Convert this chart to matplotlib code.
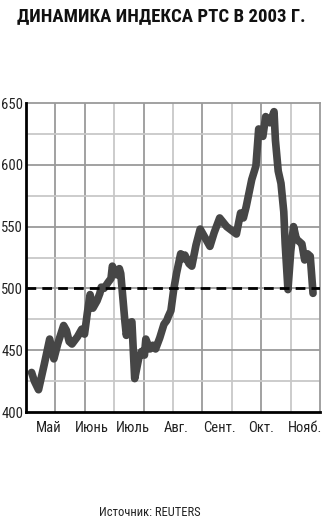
import numpy as np
import pandas as pd
import matplotlib
matplotlib.use('Agg')
import matplotlib.pyplot as plt
import matplotlib.dates as mdates
from matplotlib import font_manager

# узкий шрифт, если есть
names = {f.name for f in font_manager.fontManager.ttflist}
narrow = next((n for n in ['Liberation Sans Narrow', 'DejaVu Sans Condensed',
                           'Roboto Condensed', 'Open Sans Condensed',
                           'Noto Sans Condensed'] if n in names), None)
base = narrow if narrow else 'Liberation Sans'
plt.rcParams['font.family'] = [base, 'DejaVu Sans']

# Дни (с 1 мая 2003) и значения индекса РТС
days = [-12, -10, -7, -3, 1, 4, 7, 11, 13, 15, 17, 21, 24, 26, 28, 30, 32,
        35, 37, 38, 40, 43, 45, 46, 48, 49, 51, 52, 55, 56, 58, 60, 62, 65,
        67, 69, 70, 72, 73, 75, 77, 80, 83, 85, 86, 88, 90, 92, 95, 97, 98,
        101, 103, 106, 109, 113, 116, 119, 123, 128, 135, 138, 140, 142, 146,
        149, 151, 152, 154, 156, 159, 162, 163, 165, 167, 169, 170, 172, 174,
        176, 178, 180, 182, 184, 186, 188, 190]
values = [432, 425, 418, 438, 459, 443, 456, 470, 466, 457, 455, 461, 467,
          463, 480, 495, 484, 490, 496, 501, 500, 505, 508, 518, 512, 511,
          516, 512, 473, 462, 472, 473, 427, 444, 449, 446, 459, 453, 451,
          454, 451, 460, 471, 474, 477, 482, 499, 512, 528, 524, 527, 520,
          518, 535, 548, 540, 534, 545, 557, 550, 544, 561, 557, 566, 588,
          599, 629, 625, 623, 639, 634, 643, 620, 595, 585, 562, 536, 499,
          530, 550, 540, 538, 536, 523, 528, 526, 496]

months = ['Май', 'Июнь', 'Июль', 'Авг.', 'Сент.', 'Окт.', 'Нояб.']
month_starts = ['2003-05-01', '2003-06-01', '2003-07-01', '2003-08-01',
                '2003-09-01', '2003-10-01', '2003-11-01']

start = pd.Timestamp('2003-05-01')
dates = [start + pd.Timedelta(days=d) for d in days]
x0 = mdates.date2num(pd.Timestamp('2003-04-15'))
x1 = mdates.date2num(pd.Timestamp('2003-11-12'))

fig = plt.figure(figsize=(3.23, 5.26), dpi=100)
ax = fig.add_axes([26 / 323, 1 - 412 / 526, 294 / 323, 309 / 526])

# сетка
for i, gx in enumerate(np.linspace(x0, x1, 11)[1:-1]):
    c = '#c8c8c8' if i in (2, 4, 6, 8) else '#9a9a9a'
    ax.axvline(gx, color=c, lw=1.3, zorder=1)
for gy in [425, 450, 475, 500, 525, 550, 575, 600, 625]:
    c = '#9a9a9a' if gy % 50 == 0 else '#c8c8c8'
    ax.axhline(gy, color=c, lw=1.3, zorder=1)

ax.plot(mdates.date2num(dates), values, color='#464646', lw=5.5,
        solid_joinstyle='round', solid_capstyle='round', zorder=3)
ax.axhline(500, color='black', lw=2, ls=(0, (3.5, 2.2)), zorder=4)

lab_size = 10.5 if narrow else 9
ax.set_xlim(x0, x1)
ax.set_ylim(400, 650)
ax.set_yticks([400, 450, 500, 550, 600, 650])
ax.tick_params(axis='y', length=0, pad=2, labelsize=lab_size,
               labelcolor='#222222')
ax.set_xticks([])
for m, s in zip(months, month_starts):
    ax.text(mdates.date2num(pd.Timestamp(s)), 393, m, ha='center', va='top',
            fontsize=lab_size - (0 if narrow else 0.5), color='#222222')

for side in ['top', 'right']:
    ax.spines[side].set_color('#9a9a9a')
    ax.spines[side].set_linewidth(1.3)
for side in ['left', 'bottom']:
    ax.spines[side].set_color('black')
    ax.spines[side].set_linewidth(2)
    ax.spines[side].set_zorder(5)

title = fig.text(0.5, 1 - 16 / 526, 'ДИНАМИКА ИНДЕКСА РТС В 2003 Г.',
                 ha='center', va='center', fontsize=14, fontweight='bold',
                 color='#111111')
fig.text(150 / 323, 1 - 513 / 526, 'Источник: REUTERS', ha='center',
         va='center', fontsize=9, color='#222222')

# подгонка ширины заголовка (~287 px как в оригинале)
r = fig.canvas.get_renderer()
w = title.get_window_extent(r).width
title.set_fontsize(14 * 287 / w)

fig.savefig('out.png', dpi=100)
